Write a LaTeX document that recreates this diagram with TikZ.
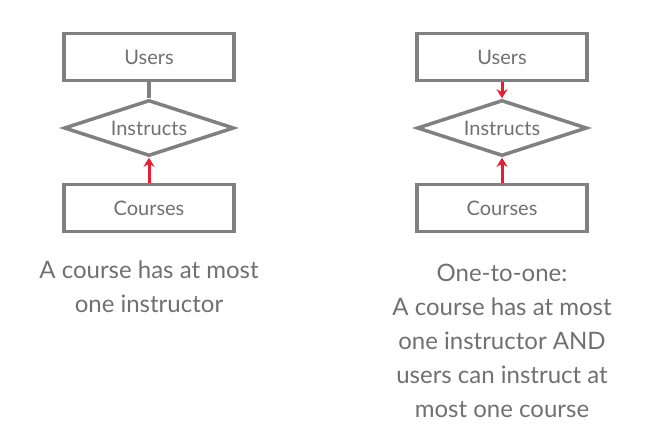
\documentclass[tikz,border=0pt]{standalone}
\usepackage{fontspec}
\setmainfont{Lato}
\usetikzlibrary{shapes.geometric,positioning,arrows.meta}
\definecolor{boxgray}{RGB}{128,128,128}
\definecolor{txtgray}{RGB}{112,112,112}
\definecolor{arrred}{RGB}{232,30,48}

\begin{document}
\begin{tikzpicture}[x=1pt, y=-1pt]
	\tikzset{ent/.style={draw=boxgray, line width=3.5pt, rectangle, minimum width=170pt, minimum height=47pt, text=txtgray, font=\fontsize{20}{22}\selectfont},
		rel/.style={draw=boxgray, line width=3.5pt, diamond, aspect=4, minimum width=170pt, minimum height=56pt, inner sep=0pt, text=txtgray, font=\fontsize{20}{22}\selectfont},
		redarr/.style={-{Stealth[length=9pt, width=11pt]}, line width=3pt, arrred},
		caption/.style={align=center, text=txtgray, font=\fontsize{24}{34}\selectfont}}
	\useasboundingbox (0,0) rectangle (648,426);

	% many-to-one
	\node[ent] (users1) at (149,57) {Users};
	\node[rel, below=16pt of users1] (instr1) {Instructs};
	\node[ent, below=25pt of instr1] (courses1) {Courses};
	\draw[boxgray, line width=3.5pt] (users1) -- (instr1);
	\draw[redarr] (courses1) -- (instr1);
	\node[caption] (txt1) at (149,287) {A course has at most\\one instructor};

	% one-to-one
	\node[ent] (users2) at (502,57) {Users};
	\node[rel, below=16pt of users2] (instr2) {Instructs};
	\node[ent, below=25pt of instr2] (courses2) {Courses};
	\draw[redarr] (users2) -- (instr2);
	\draw[redarr] (courses2) -- (instr2);
	\node[caption] (txt2) at (502,341) {One-to-one:\\A course has at most\\one instructor AND\\users can instruct at\\most one course};
\end{tikzpicture}
\end{document}
